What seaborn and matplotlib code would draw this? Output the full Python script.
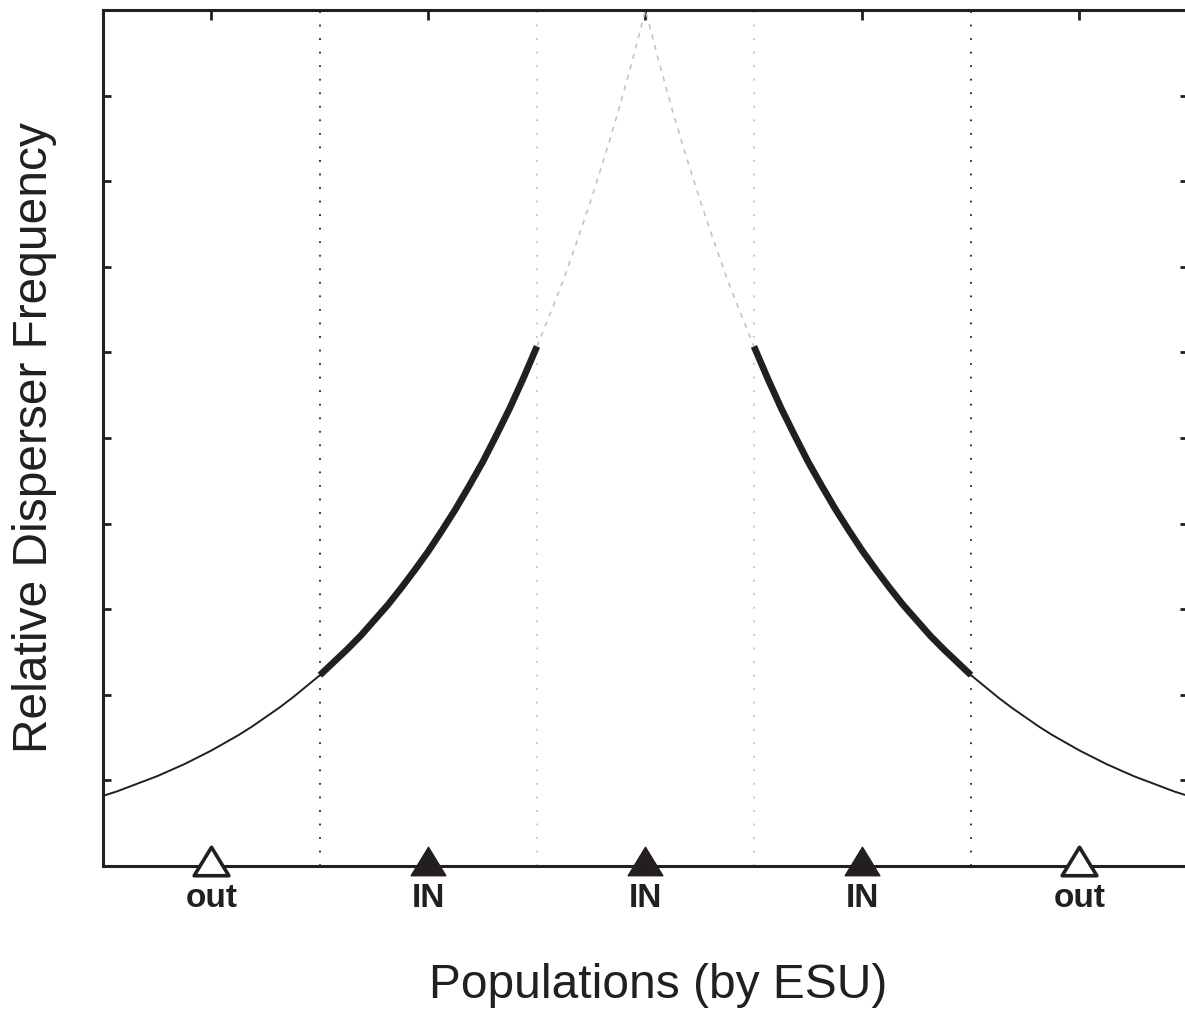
import numpy as np
import pandas as pd
import matplotlib
matplotlib.use('Agg')
import matplotlib.pyplot as plt
from matplotlib.path import Path
import seaborn as sns

# populations along the x axis and their status
pop_pos = [0.5, 1.5, 2.5, 3.5, 4.5]
pop_labels = ['out', 'IN', 'IN', 'IN', 'out']
pop_in = [False, True, True, True, False]

# ESU boundaries
bound_black = [1, 4]
bound_grey = [2, 3]

# relative disperser frequency
curve_x = [0.0, 0.0625, 0.125, 0.1875, 0.25, 0.3125, 0.375, 0.4375, 0.5, 0.5625,
           0.625, 0.6875, 0.75, 0.8125, 0.875, 0.9375, 1.0, 1.0625, 1.125, 1.1875,
           1.25, 1.3125, 1.375, 1.4375, 1.5, 1.5625, 1.625, 1.6875, 1.75, 1.8125,
           1.875, 1.9375, 2.0, 2.0625, 2.125, 2.1875, 2.25, 2.3125, 2.375, 2.4375,
           2.5, 2.5625, 2.625, 2.6875, 2.75, 2.8125, 2.875, 2.9375, 3.0, 3.0625,
           3.125, 3.1875, 3.25, 3.3125, 3.375, 3.4375, 3.5, 3.5625, 3.625, 3.6875,
           3.75, 3.8125, 3.875, 3.9375, 4.0, 4.0625, 4.125, 4.1875, 4.25, 4.3125,
           4.375, 4.4375, 4.5, 4.5625, 4.625, 4.6875, 4.75, 4.8125, 4.875, 4.9375,
           5.0]
curve_y = [0.082, 0.087, 0.093, 0.099, 0.105, 0.112, 0.119, 0.127, 0.135, 0.144,
           0.153, 0.163, 0.174, 0.185, 0.197, 0.210, 0.223, 0.238, 0.253, 0.269,
           0.287, 0.305, 0.325, 0.346, 0.368, 0.392, 0.417, 0.444, 0.472, 0.503,
           0.535, 0.570, 0.607, 0.646, 0.687, 0.732, 0.779, 0.829, 0.882, 0.939,
           1.000, 0.939, 0.882, 0.829, 0.779, 0.732, 0.687, 0.646, 0.607, 0.570,
           0.535, 0.503, 0.472, 0.444, 0.417, 0.392, 0.368, 0.346, 0.325, 0.305,
           0.287, 0.269, 0.253, 0.238, 0.223, 0.210, 0.197, 0.185, 0.174, 0.163,
           0.153, 0.144, 0.135, 0.127, 0.119, 0.112, 0.105, 0.099, 0.093, 0.087,
           0.082]

sns.set_style('ticks')
plt.rcParams['font.family'] = ['Liberation Sans', 'DejaVu Sans']

ink = '#231f20'
grey = '#c4c4c4'

df = pd.DataFrame({'x': curve_x, 'y': curve_y})

fig = plt.figure(figsize=(11.85, 10.11), dpi=100)
ax = fig.add_axes([0.0869, 0.1434, 0.9156, 0.8467])

# vertical boundaries
for b in bound_black:
    ax.plot([b, b], [0, 1], color=ink, lw=1.3, ls=(0, (1, 6.5)))
for b in bound_grey:
    ax.plot([b, b], [0, 1], color=grey, lw=1.3, ls=(0, (1, 6.5)))

# curve pieces
pieces = [(0, 1, dict(color=ink, lw=1.4)),
          (1, 2, dict(color=ink, lw=4.8)),
          (2, 3, dict(color=grey, lw=1.2, dashes=(3, 3.5))),
          (3, 4, dict(color=ink, lw=4.8)),
          (4, 5, dict(color=ink, lw=1.4))]
for lo, hi, kw in pieces:
    sub = df[(df.x >= lo) & (df.x <= hi)]
    sns.lineplot(data=sub, x='x', y='y', ax=ax, estimator=None, sort=False,
                 solid_capstyle='butt', **kw)

# population markers on the axis
tri = Path([(-1, -0.82), (1, -0.82), (0, 0.82), (-1, -0.82)], closed=True)
for x, inside in zip(pop_pos, pop_in):
    ax.scatter([x], [0.006], marker=tri, s=25 ** 2,
               facecolor=ink if inside else 'white', edgecolor=ink,
               linewidth=1.0 if inside else 2.6, zorder=5, clip_on=False)

ax.set_xlim(0, 5)
ax.set_ylim(0, 1)
ax.set_xticks(pop_pos)
ax.set_xticklabels(pop_labels, fontsize=24, fontweight='bold', color=ink)
ax.set_yticks(np.arange(0, 1.01, 0.1))
ax.set_yticklabels([])
ax.tick_params(axis='x', direction='in', top=True, bottom=True, length=7, width=2, pad=12, color=ink)
ax.tick_params(axis='y', direction='in', left=True, right=True, length=6, width=2, color=ink)
for s in ax.spines.values():
    s.set_linewidth(2.2)
    s.set_color(ink)

ax.set_xlabel('')
ax.set_ylabel('')
fig.text(658 / 1185, 1 - 985 / 1011, 'Populations (by ESU)', fontsize=34.5,
         ha='center', va='center', color=ink)
fig.text(35 / 1185, 1 - 438 / 1011, 'Relative Disperser Frequency', fontsize=34.5,
         rotation=90, ha='center', va='center', color=ink)

fig.savefig('out.png', dpi=100)
